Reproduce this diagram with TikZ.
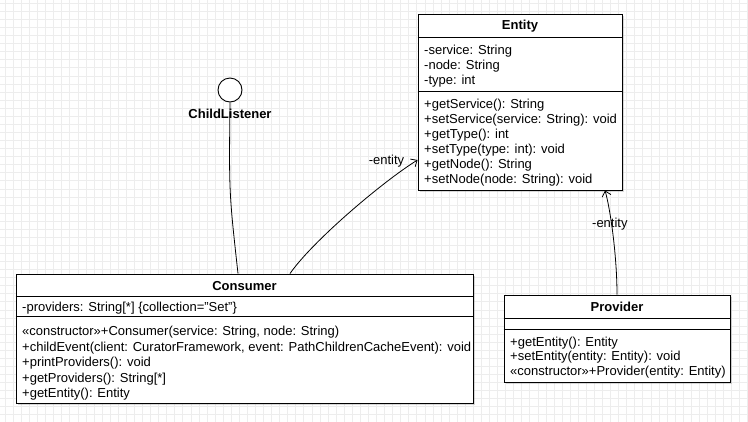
\documentclass[tikz,border=0pt]{standalone}
\usepackage{fontspec}
\usetikzlibrary{arrows.meta,shadows}
\setmainfont{Liberation Sans}
\newcommand{\umlsize}{\fontsize{13}{15}\selectfont}

\begin{document}
\begin{tikzpicture}[x=1pt, y=-1pt,
    box/.style={draw, line width=0.9pt, fill=white, inner sep=0pt,
      drop shadow={shadow xshift=2pt, shadow yshift=-2pt, opacity=0.25, fill=black!60}},
    title/.style={font=\umlsize\bfseries, inner sep=0pt, text height=1.5ex, text depth=0.25ex},
    member/.style={anchor=west, font=\umlsize, inner sep=0pt, text height=1.5ex, text depth=0.25ex},
    assoc/.style={line width=0.8pt, -{Straight Barb[length=5pt, width=9pt]}},
    gridline/.style={black!7, line width=0.8pt}]
    \useasboundingbox (0,0) rectangle (748,421);
    \begin{scope}
      \clip (0,0) rectangle (748,421);
      \fill[white] (0,0) rectangle (748,421);
      \draw[gridline, xshift=5.3pt, yshift=-3.3pt] (-20,-20) grid[step=8.07pt] (760,440);
    \end{scope}

    \node[box, minimum width=204pt, minimum height=176pt] (entity) at (520,102) {};
    \node[title] (entity-name) at (520,26.5) {Entity};
    \draw[line width=0.9pt] ([yshift=-24pt]entity.north west) -- ([yshift=-24pt]entity.north east);
    \draw[line width=0.9pt] ([yshift=-78pt]entity.north west) -- ([yshift=-78pt]entity.north east);
    \foreach \t [count=\i] in {{-service: String},{-node: String},{-type: int}}
      \node[member] (entity-attr-\i) at (424,36.5+15*\i) {\t};
    \foreach \t [count=\i] in {{+getService(): String},{+setService(service: String): void},
      {+getType(): int},{+setType(type: int): void},{+getNode(): String},{+setNode(node: String): void}}
      \node[member] (entity-op-\i) at (424,90+15*\i) {\t};

    \node[box, minimum width=457pt, minimum height=129pt] (consumer) at (244.5,338.5) {};
    \node[title] (consumer-name) at (244.5,287) {Consumer};
    \draw[line width=0.9pt] ([yshift=-23pt]consumer.north west) -- ([yshift=-23pt]consumer.north east);
    \draw[line width=0.9pt] ([yshift=-43pt]consumer.north west) -- ([yshift=-43pt]consumer.north east);
    \node[member] (consumer-attr-1) at (22,308.5) {-providers: String[*] \{collection="Set"\}};
    \foreach \t [count=\i] in {{«constructor»+Consumer(service: String, node: String)},
      {+childEvent(client: CuratorFramework, event: PathChildrenCacheEvent): void},
      {+printProviders(): void},{+getProviders(): String[*]},{+getEntity(): Entity}}
      \node[member] (consumer-op-\i) at (22,317+15.5*\i) {\t};

    \node[box, minimum width=226pt, minimum height=87pt] (provider) at (617,338.5) {};
    \node[title] (provider-name) at (617,308) {Provider};
    \draw[line width=0.9pt] ([yshift=-24pt]provider.north west) -- ([yshift=-24pt]provider.north east);
    \draw[line width=0.9pt] ([yshift=-35pt]provider.north west) -- ([yshift=-35pt]provider.north east);
    \foreach \t [count=\i] in {{+getEntity(): Entity},{+setEntity(entity: Entity): void},
      {«constructor»+Provider(entity: Entity)}}
      \node[member] (provider-op-\i) at (510,328.5+14.5*\i) {\t};

    \node[draw, circle, line width=0.9pt, fill=white, minimum size=24pt, inner sep=0pt] (listener) at (230,90) {};
    \draw[line width=0.8pt] (listener.south) .. controls +(-1,90) .. ([xshift=-6.5pt]consumer.north);
    \node[title] (listener-name) at (230,115) {ChildListener};

    \draw[assoc] ([xshift=45.5pt]consumer.north) .. controls +(23,-33) and +(-34,21) ..
      ([yshift=-58pt]entity.west) node[at end, member, anchor=east, xshift=-13pt, yshift=-1.5pt] {-entity};
    \draw[assoc] (provider.north) .. controls +(0,-40) and +(5,17) ..
      ([xshift=85pt]entity.south) node[pos=0.6, member, anchor=center, xshift=-1.5pt, yshift=-1pt] {-entity};
\end{tikzpicture}
\end{document}
